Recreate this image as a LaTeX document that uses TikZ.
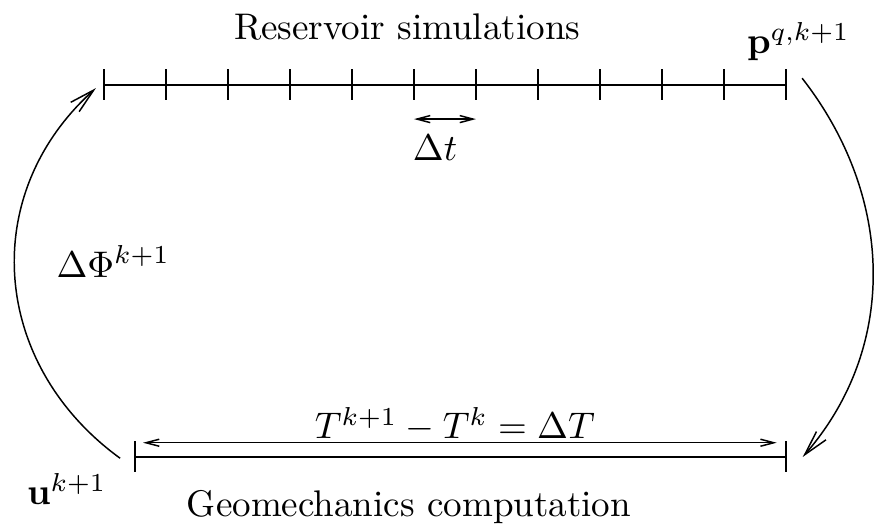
\documentclass[tikz,border=0pt]{standalone}
\usetikzlibrary{arrows.meta}
\begin{document}
\begin{tikzpicture}[
        x=0.588cm,
        y=0.588cm,
        every node/.style={
            inner sep=1pt
        },
        cycle/.style={-{Straight Barb[length=6.8pt,width=3.4pt]}},
        span/.style={{Straight Barb[length=3.6pt,width=1.9pt]}-{Straight Barb[length=3.6pt,width=1.9pt]}}
    ]
    \useasboundingbox (-1.677,1.371) rectangle (12.42,-7.145);

    % Time axes
    \draw (0,0) -- (11,0);
    \foreach \i in {0,...,11}
        \draw (\i,0.25) -- (\i,-0.25);
    \draw (0.5,-6) -- (11,-6);
    \draw (0.5,-5.75) -- (0.5,-6.25);
    \draw (11,-5.75) -- (11,-6.25);

    % Points
    \coordinate (dtA) at (5,-0.55);
    \coordinate (dtB) at (6,-0.55);
    \coordinate (TA)  at (0.63,-5.77);
    \coordinate (TB)  at (10.85,-5.77);
    \coordinate (geoEnd) at (0.26,-6.02);
    \coordinate (resStart) at (-0.13,-0.05);
    \coordinate (resEnd) at (11.26,0.11);
    \coordinate (geoStart) at (11.27,-6.0);

    % Labels
    \node (res)  at (4.89,0.94)   {Reservoir simulations};
    \node (p)    at (11.2,0.7)    {$\mathbf{p}^{q,k+1}$};
    \node (dt)   at (5.34,-1.02)  {$\Delta t$};
    \node (phi)  at (0.15,-2.85)  {$\Delta\Phi^{k+1}$};
    \node (TT)   at (5.66,-5.48)  {$T^{k+1}-T^{k}=\Delta T$};
    \node (u)    at (-0.6,-6.52)  {$\mathbf{u}^{k+1}$};
    \node (geo)  at (4.92,-6.8)   {Geomechanics computation};

    % Arrows
    \draw[span] (dtA) -- (dtB);
    \draw[span] (TA) -- (TB);
    \draw[cycle] (geoEnd) to[out=144,in=-138,looseness=1.1] (resStart);
    \draw[cycle] (resEnd) to[out=-52,in=49,looseness=1] (geoStart);

\end{tikzpicture}
\end{document}
